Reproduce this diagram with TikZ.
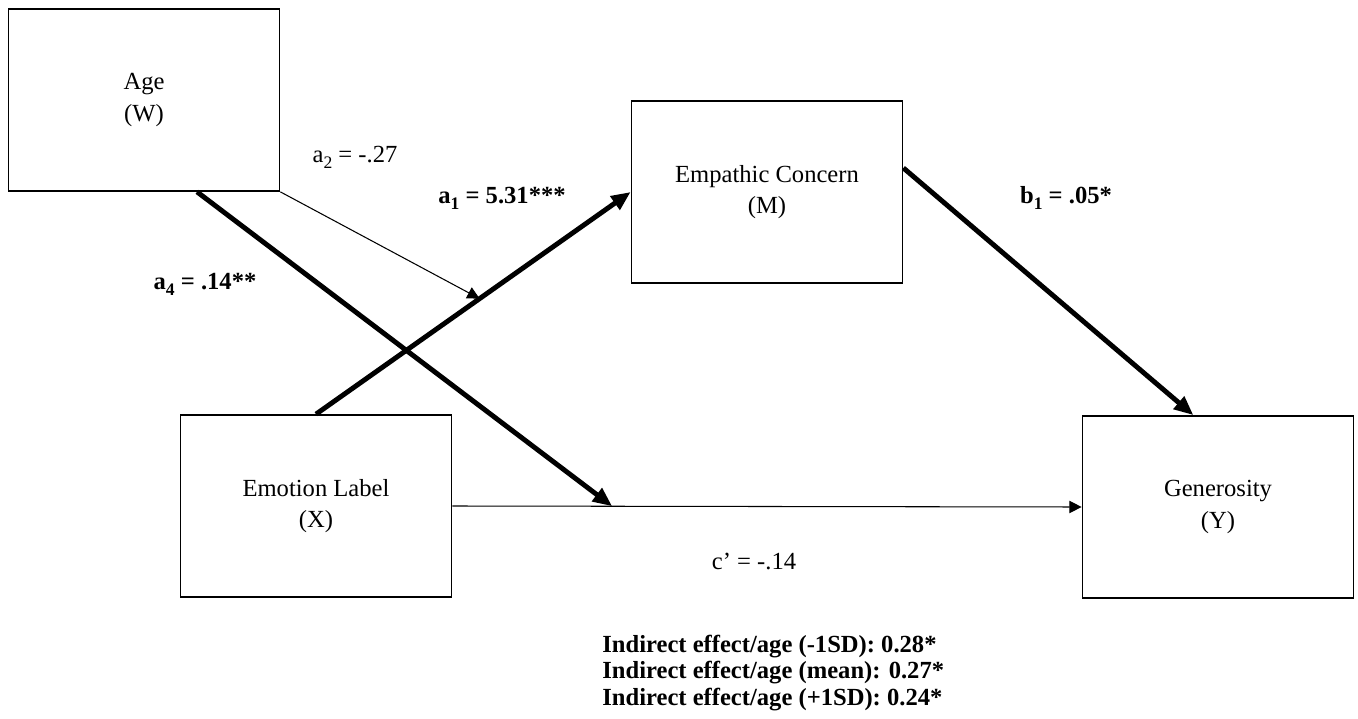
\documentclass[tikz,border=0pt]{standalone}
\usepackage{fontspec}
\setmainfont{Liberation Serif}
\usetikzlibrary{arrows.meta}
\newcommand{\lowsub}[1]{\raisebox{-3.5pt}{\fontsize{10}{10}\selectfont #1}}
\tikzset{
      varbox/.style={
        draw=black,
        line width=1pt,
        minimum width=5.42cm,
        minimum height=3.64cm,
        align=center,
        font=\fontsize{14}{18}\selectfont
      },
      thickpath/.style={-{Triangle[length=11pt,width=9pt]}, line width=2.8pt},
      thinpath/.style={-{Triangle[length=7pt,width=7pt]}, line width=0.6pt},
      coef/.style={font=\fontsize{14}{16}\selectfont}
    }
\begin{document}
\begin{tikzpicture}[x=0.02cm,y=-0.02cm]
    \fill[white] (0,0) rectangle (1358,719);
    \node[varbox] (w) at (144,100) {Age\\(W)};
    \node[varbox] (m) at (767,192) {Empathic Concern\\(M)};
    \node[varbox] (x) at (316,506) {Emotion Label\\(X)};
    \node[varbox] (y) at (1218,507) {Generosity\\(Y)};
    \path (x.east) -- (y.west) coordinate[pos=0.254] (c4);
    \path (x.north) -- (m.west) coordinate[pos=0.52] (c2);
    \draw[thinpath] (x.east) -- (y.west);
    \draw[thickpath] (x.north) -- (m.west);
    \draw[thickpath] (m.10) -- (y.105);
    \draw[thickpath] (w.-60) -- (c4);
    \draw[thinpath] (w.south east) -- (c2);
    \node[coef] (la2) at (355,157) {a\lowsub{2} = -.27};
    \node[coef] (la1) at (502,198) {\textbf{a\lowsub{\bfseries 1} = 5.31***}};
    \node[coef] (la4) at (205,284) {\textbf{a\lowsub{\bfseries 4} = .14**}};
    \node[coef] (lb1) at (1066,198) {\textbf{b\lowsub{\bfseries 1} = .05*}};
    \node[coef] (lc) at (754,561) {c’ = -.14};
    \node[coef, anchor=west, inner sep=0pt, align=left, font=\fontsize{14}{15}\selectfont\bfseries] (ind) at (602,673) {Indirect effect/age (-1SD): 0.28*\\Indirect effect/age (mean): 0.27*\\Indirect effect/age (+1SD): 0.24*};
    \end{tikzpicture}
\end{document}
